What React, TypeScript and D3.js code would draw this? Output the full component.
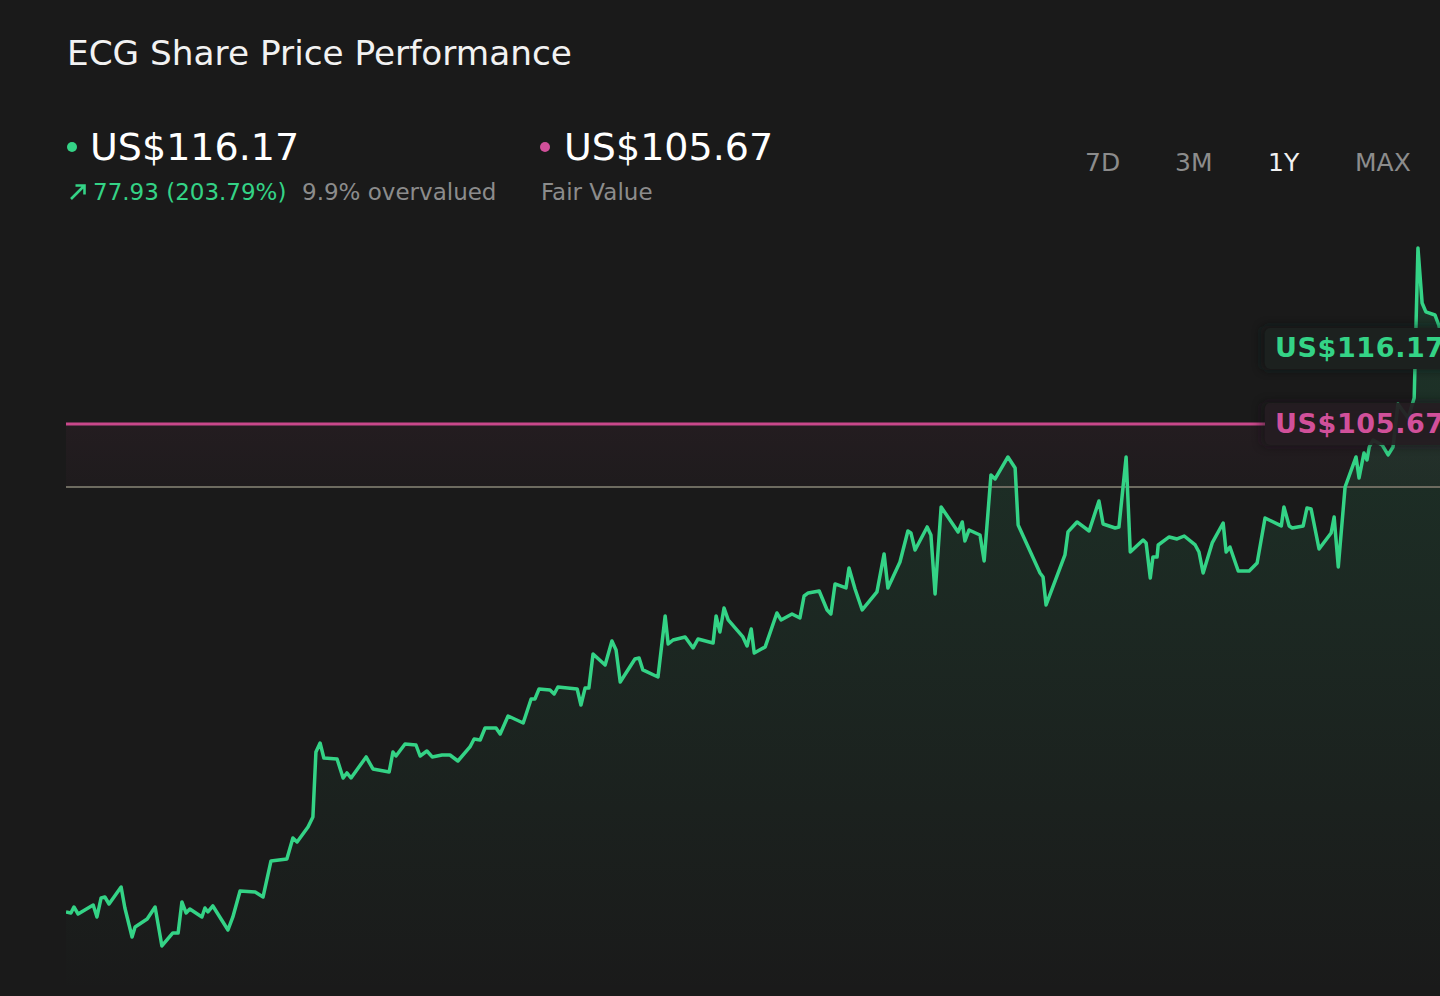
import * as d3 from "d3";

// ECG share price, 1Y view (day offset from start, price in US$)
const days = [
  0, 1.3, 2.1, 3.2, 7.2, 8.2, 9.3, 10.3, 11.4, 14.6, 15.6, 17.5, 18.3, 21.5, 23.6, 25.4, 28.3, 29.7, 30.7, 31.8,
  32.8, 36.0, 36.8, 37.6, 38.9, 42.9, 44.2, 46.1, 50.1, 52.2, 54.3, 58.5, 60.1, 61.2, 64.1, 65.4, 66.2, 67.3, 68.3, 71.8,
  73.4, 74.4, 75.5, 79.5, 81.3, 85.6, 86.6, 87.4, 89.8, 92.7, 93.8, 95.6, 97.0, 99.6, 101.7, 103.8, 107.0, 108.1, 109.7, 111.0,
  113.9, 115.0, 117.1, 121.1, 123.2, 124.2, 125.3, 128.2, 129.3, 130.3, 135.4, 136.4, 137.5, 138.5, 139.6, 142.8, 144.6, 145.7, 146.8, 150.7,
  151.8, 152.8, 156.8, 158.7, 159.5, 160.8, 164.0, 166.1, 167.4, 171.4, 172.2, 173.2, 174.3, 175.4, 179.3, 180.4, 181.5, 182.3, 185.2, 188.3,
  189.4, 192.3, 194.4, 195.5, 196.6, 199.5, 201.6, 202.6, 203.7, 206.6, 207.4, 209.0, 210.9, 214.8, 216.7, 217.7, 220.9, 223.0, 223.8, 224.9,
  228.1, 229.1, 230.2, 231.8, 236.3, 237.4, 238.1, 239.2, 242.1, 243.2, 245.0, 246.1, 249.5, 251.4, 252.2, 258.0, 258.8, 259.6, 264.6, 265.4,
  267.8, 271.0, 273.6, 274.7, 277.9, 278.9, 280.8, 281.9, 285.3, 286.1, 287.2, 287.9, 289.0, 289.3, 292.2, 294.3, 296.2, 299.1, 300.1, 301.2,
  303.6, 306.5, 307.3, 308.3, 310.5, 313.4, 315.5, 317.6, 321.9, 322.6, 324.0, 324.8, 327.7, 328.7, 329.8, 331.9, 335.1, 335.9, 337.0, 338.8,
  341.7, 342.5, 343.8, 344.6, 345.2, 346.2, 348.6, 350.2, 351.5, 352.8, 355.5, 357.1, 358.1, 359.2, 360.2, 362.6, 363.6, 365,
];
const prices = [
  38.24, 38.10, 38.93, 37.96, 39.20, 37.55, 40.17, 40.31, 39.34, 41.69, 38.79, 34.78, 36.17, 37.27, 38.93, 33.54, 35.34, 35.34, 39.62, 38.10,
  38.65, 37.55, 38.79, 38.24, 39.07, 35.75, 37.55, 41.14, 41.00, 40.31, 45.29, 45.56, 48.46, 47.91, 49.98, 51.37, 60.35, 61.59, 59.52, 59.38,
  56.75, 57.45, 56.75, 59.66, 58.00, 57.58, 60.35, 59.79, 61.45, 61.31, 59.79, 60.48, 59.66, 59.93, 59.93, 59.10, 61.04, 62.14, 62.00, 63.66,
  63.66, 62.83, 65.32, 64.35, 67.67, 67.67, 69.05, 68.91, 68.36, 69.33, 69.05, 66.84, 69.19, 69.19, 73.89, 72.37, 75.69, 74.44, 70.02, 73.20,
  73.34, 71.68, 70.71, 79.14, 75.27, 75.82, 76.24, 74.72, 75.96, 75.41, 79.14, 76.93, 80.24, 78.59, 76.24, 74.99, 77.34, 74.03, 74.86, 79.55,
  78.59, 79.42, 78.86, 81.90, 82.32, 82.59, 79.97, 79.42, 83.56, 83.01, 85.77, 82.87, 79.97, 82.46, 87.71, 83.01, 86.60, 90.88, 90.61, 88.26,
  91.44, 90.33, 82.18, 94.20, 90.75, 92.13, 89.50, 91.02, 90.33, 86.74, 98.62, 98.07, 101.11, 99.59, 91.71, 85.08, 84.53, 80.66, 87.57, 90.75,
  92.13, 90.88, 95.03, 91.85, 91.30, 91.44, 101.11, 87.98, 89.64, 89.23, 84.39, 87.29, 87.29, 88.95, 90.06, 89.78, 90.19, 88.95, 87.98, 85.08,
  89.23, 91.99, 87.98, 88.67, 85.36, 85.36, 86.46, 92.68, 91.58, 94.20, 91.58, 91.30, 91.58, 94.06, 93.92, 88.40, 90.61, 92.82, 85.91, 96.96,
  101.11, 98.21, 101.66, 100.70, 102.49, 103.46, 102.77, 101.39, 102.49, 108.43, 106.50, 109.26, 129.99, 122.39, 121.15, 120.73, 119.35, 116.17,
];

const sharePrice = 116.17;
const fairValue = 105.67;
const guidePrice = 96.96;
const changeLabel = "77.93 (203.79%)";
const valuationLabel = "9.9% overvalued";
const periods = ["7D", "3M", "1Y", "MAX"];
const activePeriod = "1Y";

const GREEN = "#34d386";
const PINK = "#c9488b";
const PINK_TEXT = "#d1509a";
const GREY = "#8c8c8c";
const BG = "#1a1a1a";
const FONT = "'DejaVu Sans', Verdana, sans-serif";

const W = 1440;
const H = 996;
const chart = { left: 66, right: 1444, top: 211.7, bottom: 971.6 };
const periodStart = [1085, 1175, 1268, 1355];

export default function App() {
  const data = days.map((d, i) => ({ day: d, price: prices[i] }));

  const x = d3.scaleLinear().domain([0, 365]).range([chart.left, chart.right]);
  const y = d3.scaleLinear().domain([30, 135]).range([chart.bottom, chart.top]);

  const line = d3
    .line<{ day: number; price: number }>()
    .x((d) => x(d.day))
    .y((d) => y(d.price));
  const area = d3
    .area<{ day: number; price: number }>()
    .x((d) => x(d.day))
    .y0(H)
    .y1((d) => y(d.price));

  const yFair = y(fairValue);
  const yGuide = y(guidePrice);
  const yNow = y(sharePrice);
  const labelX = 1265;

  return (
    <div style={{ position: "fixed", left: 0, top: 0, width: W, height: H, background: BG }}>
      <svg width={W} height={H} style={{ display: "block", fontFamily: FONT }}>
        <defs>
          <linearGradient id="areaFill" gradientUnits="userSpaceOnUse" x1="0" y1={y(130)} x2="0" y2={H}>
            <stop offset="0" stopColor={GREEN} stopOpacity={0.15} />
            <stop offset="1" stopColor={GREEN} stopOpacity={0.0} />
          </linearGradient>
          <linearGradient id="zoneFill" x1="0" y1="0" x2="0" y2="1">
            <stop offset="0" stopColor={PINK} stopOpacity={0.055} />
            <stop offset="1" stopColor={PINK} stopOpacity={0.025} />
          </linearGradient>
          <filter id="soft" x="-20%" y="-40%" width="140%" height="180%">
            <feGaussianBlur stdDeviation="5" />
          </filter>
          <clipPath id="plot">
            <rect x={chart.left} y={0} width={W - chart.left} height={H} />
          </clipPath>
        </defs>

        {/* header */}
        <text x={67} y={65} fill="#f2f2f2" fontSize={34.3}>
          ECG Share Price Performance
        </text>

        <circle cx={72} cy={147} r={5} fill={GREEN} />
        <text x={90} y={160} fill="#ffffff" fontSize={38}>
          US${sharePrice.toFixed(2)}
        </text>
        <path
          d="M71,199 L84,186 M75.5,185.5 L84.5,185.5 L84.5,194.5"
          fill="none"
          stroke={GREEN}
          strokeWidth={2.6}
          strokeLinecap="butt"
        />
        <text x={93} y={200} fill={GREEN} fontSize={23}>
          {changeLabel}
        </text>
        <text x={302} y={200} fill={GREY} fontSize={23}>
          {valuationLabel}
        </text>

        <circle cx={545} cy={147} r={5} fill={PINK_TEXT} />
        <text x={564} y={160} fill="#ffffff" fontSize={38}>
          US${fairValue.toFixed(2)}
        </text>
        <text x={541} y={200} fill={GREY} fontSize={23}>
          Fair Value
        </text>

        {periods.map((p, i) => (
          <text key={p} x={periodStart[i]} y={171} fontSize={25} fill={p === activePeriod ? "#f2f2f2" : GREY}>
            {p}
          </text>
        ))}

        {/* plot */}
        <g clipPath="url(#plot)">
          <rect x={chart.left} y={yFair} width={W - chart.left} height={yGuide - yFair} fill="url(#zoneFill)" />
          <path d={area(data) ?? ""} fill="url(#areaFill)" />
          <line x1={chart.left} x2={W} y1={yGuide} y2={yGuide} stroke="#6d6b60" strokeWidth={2} />
          <line x1={chart.left} x2={labelX} y1={yFair} y2={yFair} stroke={PINK} strokeWidth={3} />
          <path d={line(data) ?? ""} fill="none" stroke={GREEN} strokeWidth={3.5} strokeLinejoin="round" />
        </g>

        {/* price tags */}
        <rect x={labelX - 4} y={yNow - 22} width={190} height={44} rx={6} fill="#111412" opacity={0.6} filter="url(#soft)" />
        <rect x={labelX} y={yNow - 20} width={185} height={41} rx={5} fill="#1c211f" />
        <text x={labelX + 10} y={yNow + 9} fill={GREEN} fontSize={27} fontWeight="bold" letterSpacing={0.6}>
          US${sharePrice.toFixed(2)}
        </text>

        <rect x={labelX - 4} y={yFair - 22} width={190} height={44} rx={6} fill="#140f12" opacity={0.5} filter="url(#soft)" />
        <rect x={labelX} y={yFair - 21} width={185} height={42} rx={5} fill="#251e22" opacity={0.88} />
        <text x={labelX + 10} y={yFair + 9} fill={PINK_TEXT} fontSize={27} fontWeight="bold" letterSpacing={0.6}>
          US${fairValue.toFixed(2)}
        </text>
      </svg>
    </div>
  );
}
